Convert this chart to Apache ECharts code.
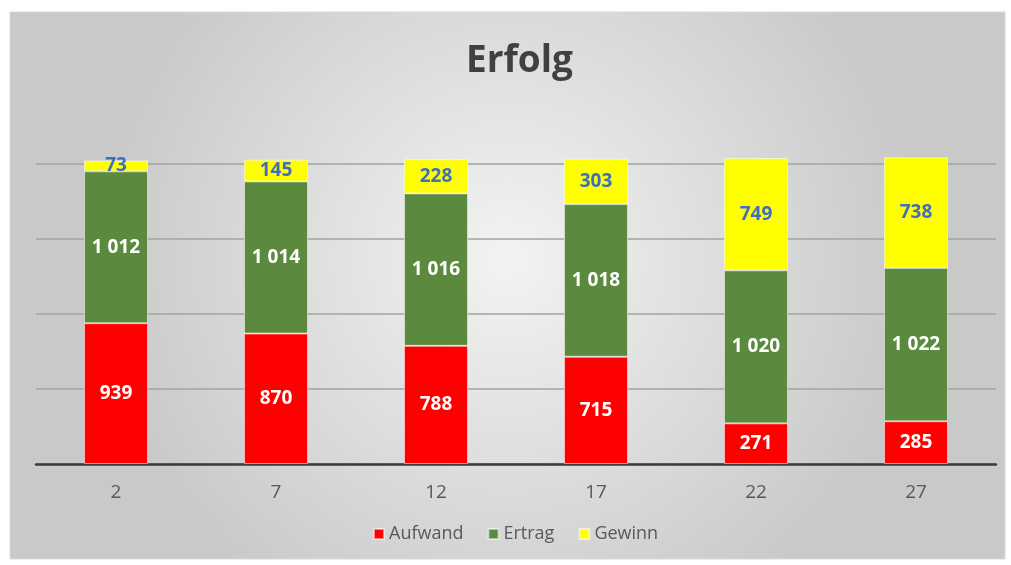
<!DOCTYPE html>
<html>
<head>
<meta charset="utf-8">
<script src="https://cdn.jsdelivr.net/npm/echarts@6/dist/echarts.min.js"></script>
<style>
  html, body { margin: 0; padding: 0; background: #ffffff; }
  #main { width: 1011px; height: 565px; }
</style>
</head>
<body>
<div id="main"></div>
<script>
// data
var categories = ['2', '7', '12', '17', '22', '27'];
var aufwand = [939, 870, 788, 715, 271, 285];
var ertrag = [1012, 1014, 1016, 1018, 1020, 1022];
var gewinn = [73, 145, 228, 303, 749, 738];

var chart = echarts.init(document.getElementById('main'));

var font = '"Open Sans", "DejaVu Sans", sans-serif';

function fmt(v) {
    // thousands with a space like the original
    var s = String(v.value);
    if (s.length > 3) s = s.slice(0, s.length - 3) + ' ' + s.slice(-3);
    return s;
}

option = {
    backgroundColor: '#ffffff',
    textStyle: { fontFamily: font },
    graphic: [
        {
            type: 'rect',
            z: -10,
            silent: true,
            shape: { x: 10, y: 12, width: 995, height: 547 },
            style: {
                fill: {
                    type: 'radial', x: 0.5, y: 0.45, r: 0.75,
                    colorStops: [
                        { offset: 0, color: '#f3f3f3' },
                        { offset: 1, color: '#c9c9c9' }
                    ]
                },
                stroke: '#d9d9d9',
                lineWidth: 1
            }
        }
    ],
    title: {
        text: 'Erfolg',
        left: 461,
        top: 38,
        textStyle: { fontFamily: font, fontSize: 37, fontWeight: 'bold', color: '#404040' }
    },
    legend: {
        bottom: 17,
        left: 368,
        icon: 'rect',
        itemWidth: 10,
        itemHeight: 10,
        itemGap: 24,
        textStyle: { fontFamily: font, fontSize: 18, color: '#595959' },
        data: ['Aufwand', 'Ertrag', 'Gewinn']
    },
    grid: { left: 36, right: 15, top: 149, bottom: 101 },
    xAxis: [
        {
            type: 'category',
            data: categories,
            axisLine: { lineStyle: { color: '#3a3a3a', width: 2.5 } },
            axisTick: { show: false },
            axisLabel: { margin: 19, fontSize: 19, color: '#595959', fontFamily: font }
        }
    ],
    yAxis: [
        {
            type: 'value',
            min: 0,
            max: 2100,
            interval: 500,
            axisLabel: { show: false },
            axisLine: { show: false },
            axisTick: { show: false },
            splitLine: { showMaxLine: false, lineStyle: { color: '#a3a3a3', width: 1.5 } }
        }
    ],
    series: [
        {
            name: 'Aufwand',
            type: 'bar',
            stack: 'a',
            barWidth: '40%',
            data: aufwand,
            itemStyle: { color: '#ff0000', borderColor: 'rgba(255,255,255,0.5)', borderWidth: 1 },
            label: { show: true, position: 'inside', formatter: fmt, color: '#ffffff',
                     fontWeight: 'bold', fontSize: 19, fontFamily: font }
        },
        {
            name: 'Ertrag',
            type: 'bar',
            stack: 'a',
            data: ertrag,
            itemStyle: { color: '#5b8a3f', borderColor: 'rgba(255,255,255,0.5)', borderWidth: 1 },
            label: { show: true, position: 'inside', formatter: fmt, color: '#ffffff',
                     fontWeight: 'bold', fontSize: 19, fontFamily: font }
        },
        {
            name: 'Gewinn',
            type: 'bar',
            stack: 'a',
            data: gewinn,
            itemStyle: { color: '#ffff00', borderColor: 'rgba(255,255,255,0.5)', borderWidth: 1 },
            label: { show: true, position: 'inside', formatter: fmt, color: '#3f6fc0',
                     fontWeight: 'bold', fontSize: 19, fontFamily: font }
        }
    ]
};

chart.setOption(option);
</script>
</body>
</html>
